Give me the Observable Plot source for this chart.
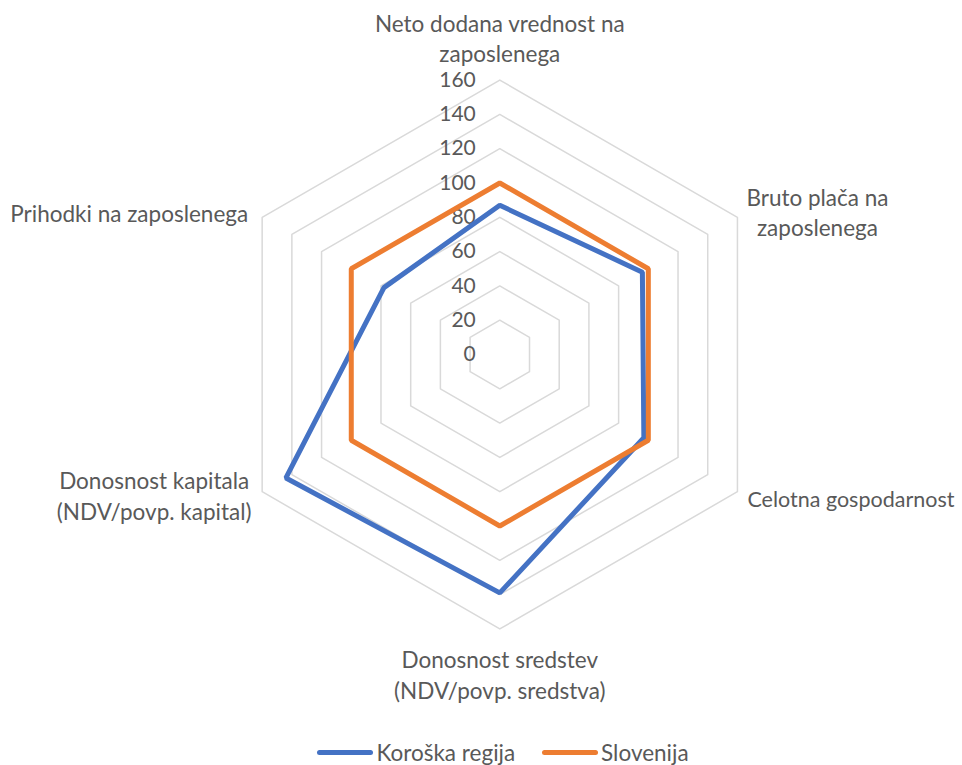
<!DOCTYPE html>
<html>
<head>
<meta charset="utf-8">
<script src="https://cdn.jsdelivr.net/npm/d3@7"></script>
<script src="https://cdn.jsdelivr.net/npm/@observablehq/plot@0.6"></script>
<style>
  body { margin: 0; background: #fff; font-family: Lato, "Open Sans", sans-serif; }
  #legend { display: flex; justify-content: center; align-items: center; height: 28px; font-size: 22.5px; color: #595959; gap: 27px; padding-left: 44px; }
  .item { display: flex; align-items: center; }
  .sw { width: 56px; height: 5px; border-radius: 3px; margin-right: 3px; }
</style>
</head>
<body>
<div id="chart"></div>
<div id="legend"></div>
<script>
const categories = [
  "Neto dodana vrednost na\nzaposlenega",
  "Bruto plača na\nzaposlenega",
  "Celotna gospodarnost",
  "Donosnost sredstev\n(NDV/povp. sredstva)",
  "Donosnost kapitala\n(NDV/povp. kapital)",
  "Prihodki na zaposlenega"
];
const koroska = [87, 96, 97, 139, 144, 78];
const slovenija = [100, 100, 100, 100, 100, 100];
const ticks = [0, 20, 40, 60, 80, 100, 120, 140, 160];
const seriesNames = ["Koroška regija", "Slovenija"];
const colors = ["#4472C4", "#ED7D31"];

const n = categories.length;
const maxV = 160;
const ang = i => (i * 2 * Math.PI) / n;
const px = (i, r) => r * Math.sin(ang(i));
const py = (i, r) => r * Math.cos(ang(i));

// grid rings
const rings = [];
ticks.filter(t => t > 0).forEach(t => {
  for (let i = 0; i < n; i++) rings.push({ t, x: px(i, t), y: py(i, t) });
});
// series points
const series = [];
[koroska, slovenija].forEach((vals, s) => {
  vals.forEach((v, i) => series.push({ s: seriesNames[s], x: px(i, v), y: py(i, v) }));
});
// labels
const labels = categories.map((c, i) => ({ c, i, x: px(i, maxV), y: py(i, maxV) }));
const labelOpts = [
  { dx: 0, dy: -43, anchor: "middle", size: 22.5 },
  { dx: 80, dy: -6, anchor: "middle", size: 22.5 },
  { dx: 10, dy: 6, anchor: "start", size: 21.5 },
  { dx: 0, dy: 45, anchor: "middle", size: 22.5 },
  { dx: -108, dy: 3, anchor: "middle", size: 22.5 },
  { dx: -14, dy: -5, anchor: "end", size: 22.5 }
];

const W = 962, H = 738, cx = 499.3, cy = 354, k = 1.715;

const chart = Plot.plot({
  width: W, height: H, margin: 0,
  x: { domain: [-cx / k, (W - cx) / k], axis: null },
  y: { domain: [-(H - cy) / k, cy / k], axis: null },
  style: { fontFamily: "Lato, 'Open Sans', sans-serif", color: "#595959", background: "#fff" },
  marks: [
    Plot.line(rings, { x: "x", y: "y", z: "t", curve: "linear-closed", stroke: "#d9d9d9", strokeWidth: 1.5 }),
    Plot.text(ticks, { x: 0, y: d => d, text: d => String(d), textAnchor: "end", dx: -24, fontSize: 21, fill: "#595959" }),
    Plot.line(series, { x: "x", y: "y", z: "s", curve: "linear-closed", stroke: "s", strokeWidth: 5, strokeLinejoin: "miter" }),
    ...labels.map(l => Plot.text([l], { x: "x", y: "y", text: "c", textAnchor: labelOpts[l.i].anchor, dx: labelOpts[l.i].dx, dy: labelOpts[l.i].dy, lineAnchor: "middle", lineHeight: 1.35, fontSize: labelOpts[l.i].size, fill: "#595959" }))
  ],
  color: { domain: seriesNames, range: colors }
});
document.getElementById("chart").appendChild(chart);

const leg = document.getElementById("legend");
seriesNames.forEach((s, i) => {
  const it = document.createElement("div");
  it.className = "item";
  it.innerHTML = `<span class="sw" style="background:${colors[i]}"></span><span>${s}</span>`;
  leg.appendChild(it);
});
</script>
</body>
</html>
